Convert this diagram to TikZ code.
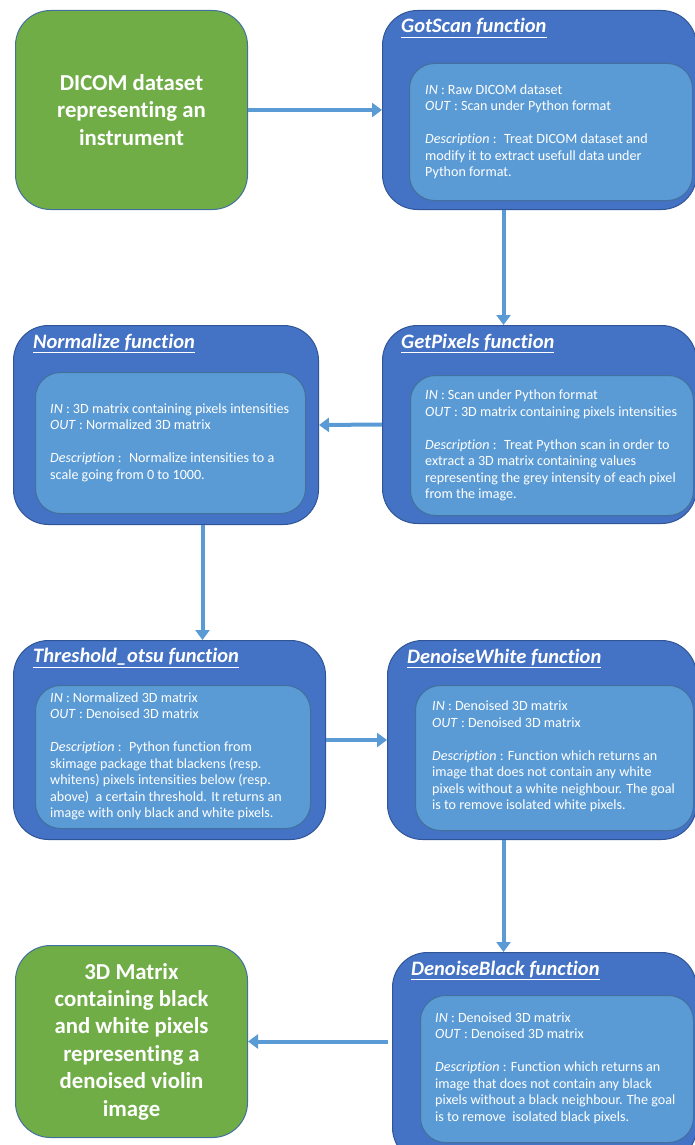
\documentclass[tikz,border=0pt]{standalone}
\usepackage{fontspec}
\setmainfont{Carlito}[Ligatures=NoCommon]
\usetikzlibrary{arrows.meta}
\definecolor{outerblue}{HTML}{4472C4}
\definecolor{outerline}{HTML}{2F5597}
\definecolor{innerblue}{HTML}{5B9BD5}
\definecolor{innerline}{HTML}{41719C}
\definecolor{boxgreen}{HTML}{70AD47}
\definecolor{arrowblue}{HTML}{5B9BD5}
\tikzset{
  outerbox/.style={draw=outerline, line width=1pt, fill=outerblue, rounded corners=35pt,
    anchor=north west, inner sep=0pt},
  innerbox/.style={draw=innerline, line width=1pt, fill=innerblue, rounded corners=25pt,
    anchor=north west, inner sep=0pt},
  greenbox/.style={draw=innerline, line width=1pt, fill=boxgreen, rounded corners=35pt,
    anchor=north west, inner sep=0pt, text=white, align=center,
    font=\fontsize{22.8}{27.4}\selectfont\bfseries},
  title/.style={anchor=west, text=white, inner sep=0pt,
    font=\fontsize{20.5}{24}\selectfont\bfseries\itshape},
  body/.style={anchor=west, text=white, align=left, inner sep=0pt,
    font=\fontsize{14.1}{16.5}\selectfont},
  arr/.style={draw=arrowblue, line width=4pt, -{Triangle[width=14pt,length=10pt]}},
}
\begin{document}
\begin{tikzpicture}[x=1pt,y=-1pt]
\useasboundingbox (0,0) rectangle (695,1145);
\clip (0,0) rectangle (695,1145);

% start and end of the pipeline
\node[greenbox, minimum width=232pt, minimum height=199pt] (dicom) at (15,10)
  {DICOM dataset\\representing an\\instrument};
\node[greenbox, minimum width=232pt, minimum height=192pt] (result) at (15,945)
  {3D Matrix\\containing black\\and white pixels\\representing a\\denoised violin\\image};

% GotScan
\node[outerbox, minimum width=314pt, minimum height=199pt] (gotscan) at (382,10) {};
\node[innerbox, minimum width=283pt, minimum height=137pt] (gotscanin) at (409,63) {};
\node[title] (gotscant) at (401,28) {\underline{GotScan function}};
\node[body] (gotscanb) at (425,131.5) {\textit{IN} : Raw DICOM dataset\\
  \textit{OUT} : Scan under Python format\\[16.5pt]
  \textit{Description} :~ Treat DICOM dataset and\\
  modify it to extract usefull data under\\
  Python format.};

% GetPixels
\node[outerbox, minimum width=314pt, minimum height=198pt] (getpix) at (382,325) {};
\node[innerbox, minimum width=283pt, minimum height=140pt] (getpixin) at (410,375) {};
\node[title] (getpixt) at (401,343) {\underline{GetPixels function}};
\node[body] (getpixb) at (425,445.5) {\textit{IN} : Scan under Python format\\
  \textit{OUT} : 3D matrix containing pixels intensities\\[16.5pt]
  \textit{Description} :~ Treat Python scan in order to\\
  extract a 3D matrix containing values\\
  representing the grey intensity of each pixel\\
  from the image.};

% Normalize
\node[outerbox, minimum width=305pt, minimum height=199pt] (norm) at (13,325) {};
\node[innerbox, minimum width=270pt, minimum height=141pt] (normin) at (35,372) {};
\node[title] (normt) at (33,343) {\underline{Normalize function}};
\node[body] (normb) at (50,442.5) {\textit{IN} : 3D matrix containing pixels intensities\\
  \textit{OUT} : Normalized 3D matrix\\[16.5pt]
  \textit{Description} :~ Normalize intensities to a\\
  scale going from 0 to 1000.};

% Threshold_otsu
\node[outerbox, minimum width=312pt, minimum height=199pt] (thresh) at (13,640) {};
\node[innerbox, minimum width=275pt, minimum height=143pt] (threshin) at (35,685) {};
\node[title] (thresht) at (33,658) {\underline{Threshold\_otsu function}};
\node[body] (threshb) at (50,756.5) {\textit{IN} : Normalized 3D matrix\\
  \textit{OUT} : Denoised 3D matrix\\[16.5pt]
  \textit{Description} :~ Python function from\\
  skimage package that blackens (resp.\\
  whitens) pixels intensities below (resp.\\
  above)~ a certain threshold. It returns an\\
  image with only black and white pixels.};

% DenoiseWhite
\node[outerbox, minimum width=309pt, minimum height=199pt] (dwhite) at (387,640) {};
\node[innerbox, minimum width=278pt, minimum height=145pt] (dwhitein) at (415,685) {};
\node[title] (dwhitet) at (407,658) {\underline{DenoiseWhite function}};
\node[body] (dwhiteb) at (432,756.5) {\textit{IN} : Denoised 3D matrix\\
  \textit{OUT} : Denoised 3D matrix\\[16.5pt]
  \textit{Description} : Function which returns an\\
  image that does not contain any white\\
  pixels without a white neighbour. The goal\\
  is to remove isolated white pixels.};

% DenoiseBlack
\node[outerbox, minimum width=304pt, minimum height=210pt] (dblack) at (392,952) {};
\node[innerbox, minimum width=273pt, minimum height=147pt] (dblackin) at (420,995) {};
\node[title] (dblackt) at (411,970) {\underline{DenoiseBlack function}};
\node[body] (dblackb) at (435,1068) {\textit{IN} : Denoised 3D matrix\\
  \textit{OUT} : Denoised 3D matrix\\[16.5pt]
  \textit{Description} : Function which returns an\\
  image that does not contain any black\\
  pixels without a black neighbour. The goal\\
  is to remove~ isolated black pixels.};

% connectors
\draw[arr] (dicom.east) -- (gotscan.west);
\draw[arr] ([xshift=-36pt]gotscan.south) -- ([xshift=-36pt]gotscan.south |- getpix.north);
\draw[arr] (getpix.west) -- (norm.east);
\draw[arr] ([xshift=36.5pt]norm.south) -- ([xshift=36.5pt]norm.south |- thresh.north);
\draw[arr] (thresh.east) -- (dwhite.west);
\draw[arr] ([xshift=-38.5pt]dwhite.south) -- ([xshift=-38.5pt]dwhite.south |- dblack.north);
\draw[arr] ([xshift=-4pt]dblack.west |- result.east) -- (result.east);
\end{tikzpicture}
\end{document}
